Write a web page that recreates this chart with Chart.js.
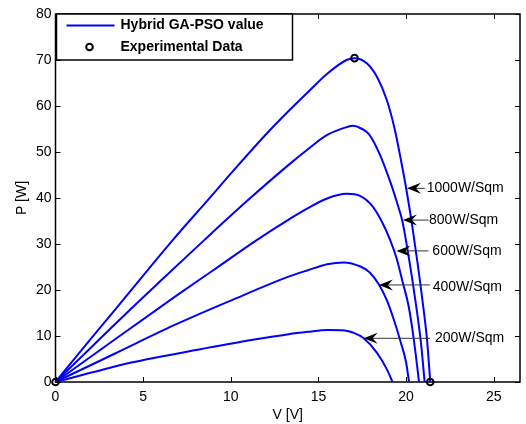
<!DOCTYPE html>
<html>
<head>
<meta charset="utf-8">
<script src="https://cdn.jsdelivr.net/npm/chart.js@4.4.1/dist/chart.umd.min.js"></script>
<style>
  html, body { margin: 0; padding: 0; background: #fff; }
</style>
</head>
<body>
<canvas id="pv-chart" width="526" height="424"></canvas>
<script>
// P-V curves, one pair of arrays per irradiance level
const v1000 = [0, 2, 4, 6.7, 8.7, 10, 12, 13.3, 14.4, 15.5, 16.6, 17.06, 17.76, 18.33, 18.9, 19.35, 19.72, 20.02, 20.35, 20.65, 20.96, 21.2, 21.38];
const p1000 = [0, 9.3, 18.5, 30.9, 39.6, 45.3, 53.8, 58.9, 63.0, 67.0, 70.0, 70.4, 69.3, 66.4, 61.3, 55.0, 48.0, 41.8, 34.0, 26.0, 17.0, 9.0, 0];

const v800 = [0, 2, 4, 6, 8.5, 11, 13.3, 14.4, 15.5, 16.6, 16.95, 17.2, 17.9, 18.5, 19.1, 19.5, 19.8, 20.1, 20.56, 20.85, 21.06];
const p800 = [0, 7.4, 14.8, 22.0, 30.9, 39.6, 47.2, 50.6, 53.7, 55.4, 55.7, 55.5, 53.8, 49.5, 43.5, 38.8, 34.8, 28.4, 17.0, 8.5, 0];

const v600 = [0, 3.4, 6.8, 9, 11.5, 13.3, 14.4, 15.5, 16.6, 17.4, 18.0, 18.6, 19.1, 19.45, 19.8, 20.15, 20.45, 20.74];
const p600 = [0, 9.3, 18.5, 24.3, 30.9, 35.3, 37.8, 39.9, 40.9, 40.4, 38.6, 35.0, 30.8, 27.0, 21.8, 16.4, 9.0, 0];

const v400 = [0, 3.4, 6.8, 10, 13.3, 14.4, 15.5, 16.45, 17.4, 17.9, 18.45, 18.9, 19.3, 19.7, 20.0, 20.17];
const p400 = [0, 6.2, 12.4, 17.7, 22.9, 24.3, 25.6, 26.0, 25.1, 23.9, 21.2, 17.8, 13.6, 8.6, 4.3, 0];

const v200 = [0, 2, 4.4, 8.1, 11, 13.3, 14.4, 15.5, 16.5, 17.0, 17.55, 18.33, 18.9, 19.23];
const p200 = [0, 2.0, 4.3, 7.0, 9.0, 10.4, 10.9, 11.3, 11.2, 10.7, 9.6, 6.4, 2.8, 0];

const expV = [0, 17.06, 21.38];
const expP = [0, 70.4, 0];

const xTicks = [0, 5, 10, 15, 20, 25];
const yTicks = [0, 10, 20, 30, 40, 50, 60, 70, 80];

// arrow annotations: label, arrow tip (V, P), tail V, text start V
const noteLabels = ["1000W/Sqm", "800W/Sqm", "600W/Sqm", "400W/Sqm", "200W/Sqm"];
const noteTipV = [20.05, 19.82, 19.45, 18.45, 17.58];
const noteTipP = [42.1, 35.2, 28.5, 21.1, 9.5];
const noteTailV = [21.07, 21.28, 21.28, 21.37, 21.37];
const noteTextV = [21.18, 21.31, 21.5, 21.52, 21.65];
const noteTextP = [42.1, 35.1, 28.5, 20.7, 9.5];

const FONT = "'Liberation Sans', Arial, sans-serif";
const BLUE = "#0000ff";

function toPoints(vs, ps) {
  return vs.map((v, i) => ({ x: v, y: ps[i] }));
}

function curve(vs, ps, label) {
  return {
    label: label,
    data: toPoints(vs, ps),
    borderColor: BLUE,
    borderWidth: 2,
    pointRadius: 0,
    cubicInterpolationMode: "monotone",
    fill: false,
    order: 1
  };
}

const frameTicks = {
  id: "frameTicks",
  beforeDatasetsDraw(chart) {
    const { ctx, chartArea: a, scales: { x, y } } = chart;
    ctx.save();
    ctx.strokeStyle = "#000";
    ctx.lineWidth = 1;
    ctx.beginPath();
    xTicks.forEach(v => {
      const px = Math.round(x.getPixelForValue(v)) + 0.5;
      ctx.moveTo(px, a.bottom); ctx.lineTo(px, a.bottom - 5);
      ctx.moveTo(px, a.top); ctx.lineTo(px, a.top + 5);
    });
    yTicks.forEach(v => {
      const py = Math.round(y.getPixelForValue(v)) + 0.5;
      ctx.moveTo(a.left, py); ctx.lineTo(a.left + 5, py);
      ctx.moveTo(a.right, py); ctx.lineTo(a.right - 5, py);
    });
    ctx.stroke();
    ctx.lineWidth = 1.5;
    ctx.strokeRect(a.left, a.top, a.right - a.left, a.bottom - a.top);
    ctx.restore();
  }
};

const notesAndLegend = {
  id: "notesAndLegend",
  afterDatasetsDraw(chart) {
    const { ctx, chartArea: a, scales: { x, y } } = chart;
    ctx.save();

    noteLabels.forEach((text, i) => {
      const tx = x.getPixelForValue(noteTipV[i]);
      const ty = y.getPixelForValue(noteTipP[i]);
      const ex = x.getPixelForValue(noteTailV[i]);

      ctx.strokeStyle = "#333";
      ctx.lineWidth = 1;
      ctx.beginPath();
      ctx.moveTo(tx + 8, ty);
      ctx.lineTo(ex, ty);
      ctx.stroke();

      ctx.fillStyle = "#000";
      ctx.beginPath();
      ctx.moveTo(tx, ty);
      ctx.lineTo(tx + 14, ty - 5.5);
      ctx.lineTo(tx + 9, ty);
      ctx.lineTo(tx + 14, ty + 5.5);
      ctx.closePath();
      ctx.fill();

      ctx.font = "14px " + FONT;
      ctx.textAlign = "left";
      ctx.textBaseline = "middle";
      ctx.fillText(text, x.getPixelForValue(noteTextV[i]), y.getPixelForValue(noteTextP[i]));
    });

    // legend box in the top-left corner
    const lx = a.left + 1;
    const ly = a.top;
    ctx.fillStyle = "#fff";
    ctx.fillRect(lx, ly, 236, 46);
    ctx.strokeStyle = "#000";
    ctx.lineWidth = 1.5;
    ctx.strokeRect(lx, ly, 236, 46);

    ctx.strokeStyle = BLUE;
    ctx.lineWidth = 2;
    ctx.beginPath();
    ctx.moveTo(lx + 10, ly + 11.5);
    ctx.lineTo(lx + 58, ly + 11.5);
    ctx.stroke();

    ctx.strokeStyle = "#000";
    ctx.beginPath();
    ctx.arc(lx + 33, ly + 33, 3.3, 0, Math.PI * 2);
    ctx.stroke();

    ctx.fillStyle = "#000";
    ctx.font = "bold 14px " + FONT;
    ctx.textAlign = "left";
    ctx.textBaseline = "middle";
    ctx.fillText(chart.data.datasets[0].label, lx + 64, ly + 11.5);
    ctx.fillText(chart.data.datasets[5].label, lx + 64, ly + 33);
    ctx.restore();
  }
};

Chart.defaults.font.family = FONT;
Chart.defaults.font.size = 14;
Chart.defaults.color = "#000";

new Chart(document.getElementById("pv-chart"), {
  type: "line",
  data: {
    datasets: [
      curve(v1000, p1000, "Hybrid GA-PSO value"),
      curve(v800, p800, "800"),
      curve(v600, p600, "600"),
      curve(v400, p400, "400"),
      curve(v200, p200, "200"),
      {
        label: "Experimental Data",
        data: toPoints(expV, expP),
        showLine: false,
        pointRadius: 3.3,
        pointBorderWidth: 2,
        pointBorderColor: "#000",
        pointBackgroundColor: "rgba(0,0,0,0)",
        clip: false,
        order: 0
      }
    ]
  },
  options: {
    responsive: false,
    animation: false,
    events: [],
    layout: { padding: { left: 0, top: 14, right: 2, bottom: 0 } },
    plugins: {
      legend: { display: false },
      tooltip: { enabled: false }
    },
    scales: {
      x: {
        type: "linear",
        min: 0,
        max: 26.5,
        afterBuildTicks: scale => { scale.ticks = xTicks.map(v => ({ value: v })); },
        afterFit: scale => { scale.height = 42; },
        grid: { display: false, drawTicks: false },
        border: { display: false },
        ticks: { padding: 7, maxRotation: 0, autoSkip: false },
        title: { display: true, text: "V [V]", padding: { top: 0, bottom: 0 } }
      },
      y: {
        type: "linear",
        min: 0,
        max: 80,
        afterBuildTicks: scale => { scale.ticks = yTicks.map(v => ({ value: v })); },
        afterFit: scale => { scale.width = 55.5; },
        grid: { display: false, drawTicks: false },
        border: { display: false },
        ticks: { padding: 4 },
        title: { display: true, text: "P [W]", padding: { top: 14, bottom: 0 } }
      }
    }
  },
  plugins: [frameTicks, notesAndLegend]
});
</script>
</body>
</html>
